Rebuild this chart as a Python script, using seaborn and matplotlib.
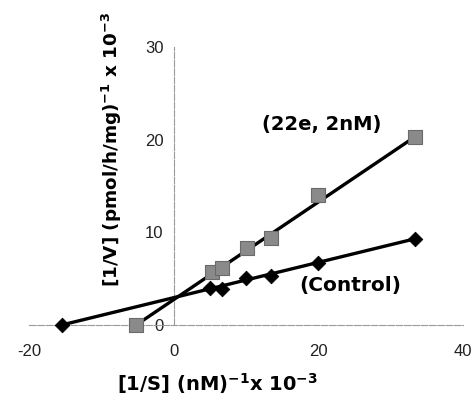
import numpy as np
import seaborn as sns
import matplotlib
matplotlib.use('Agg')
import matplotlib.pyplot as plt

# datos (doble reciproco)
x_control = [-15.5, 5.0, 6.7, 10.0, 13.4, 20.0, 33.3]
y_control = [0.0, 4.0, 3.9, 5.1, 5.3, 6.7, 9.3]
x_inhib = [-5.2, 5.3, 6.7, 10.1, 13.4, 20.0, 33.3]
y_inhib = [0.0, 5.7, 6.2, 8.3, 9.4, 14.0, 20.3]
x_ticks = [-20, 0, 20, 40]
y_ticks = [0, 10, 20, 30]

sns.set_style('white')
plt.rcParams['font.family'] = ['Liberation Sans', 'DejaVu Sans']
plt.rcParams['axes.unicode_minus'] = False
plt.rcParams['mathtext.default'] = 'bf'
plt.rcParams['text.color'] = 'black'
plt.rcParams['axes.labelcolor'] = 'black'

fig = plt.figure(figsize=(4.73, 4.04), dpi=100)
ax = fig.add_axes([0.0613, 0.1955, 0.918, 0.688])

# recta entre el intercepto y el ultimo punto
for xs, ys in [(x_control, y_control), (x_inhib, y_inhib)]:
    sns.lineplot(x=[xs[0], xs[-1]], y=[ys[0], ys[-1]], ax=ax, color='black',
                 linewidth=2.4, sort=False, zorder=3)

sns.scatterplot(x=x_inhib, y=y_inhib, ax=ax, marker='s', s=95, color='#8a8a8a',
                edgecolor='#6a6a6a', linewidth=0.8, zorder=4, clip_on=False)
sns.scatterplot(x=x_control, y=y_control, ax=ax, marker='D', s=55, color='black',
                edgecolor='black', zorder=5, clip_on=False)

ax.set_xlim(-20, 40)
ax.set_ylim(0, 30)
ax.set_xticks(x_ticks)
ax.set_yticks(y_ticks)

ax.spines['left'].set_position(('data', 0))
ax.spines['bottom'].set_position(('data', 0))
ax.spines['right'].set_visible(False)
ax.spines['top'].set_visible(False)
for s in ['left', 'bottom']:
    ax.spines[s].set_color('#9a9a9a')
    ax.spines[s].set_linewidth(0.8)
    ax.spines[s].set_linestyle((0, (6, 1.5)))

ax.tick_params(axis='both', direction='inout', length=5, width=0.8, color='#9a9a9a',
               labelsize=12, labelcolor='#222222')
ax.tick_params(axis='y', pad=5)
ax.tick_params(axis='x', pad=11)

lab = dict(fontsize=14, fontweight='bold', family='DejaVu Sans')
ax.set_xlabel(r'[1/S] (nM)$^{-1}$x 10$^{-3}$', **lab)
ax.set_ylabel(r'[1/V] (pmol/h/mg)$^{-1}$ x 10$^{-3}$', fontsize=13.2, fontweight='bold',
              family='DejaVu Sans')
ax.xaxis.set_label_coords(0.433, -0.165)
ax.yaxis.set_label_coords(0.218, 0.63)

ax.text(20.4, 21.6, '(22e, 2nM)', ha='center', va='center', **lab)
ax.text(24.4, 4.3, '(Control)', ha='center', va='center', fontsize=14.5,
        fontweight='bold', family='DejaVu Sans')

fig.savefig('out.png', dpi=100)
